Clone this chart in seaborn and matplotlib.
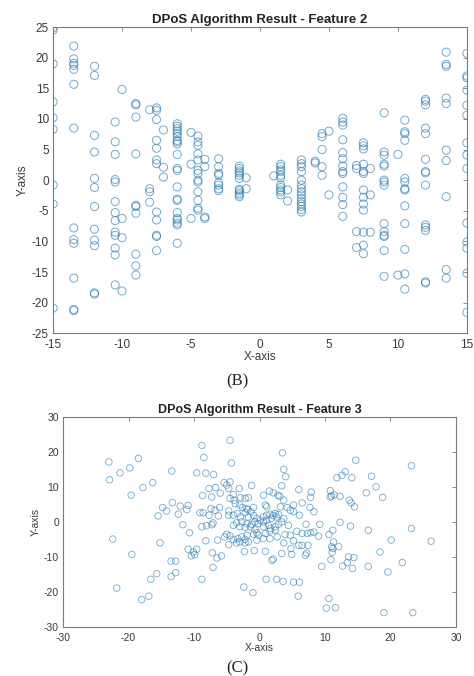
import matplotlib
matplotlib.use('Agg')
import seaborn as sns
import pandas as pd
import matplotlib.pyplot as plt

# Feature 2: points sit on a few discrete x columns
F2_X_COLUMNS = [-15, -13.5, -12, -10.5, -10, -9, -8, -7.5, -7, -6, -5, -4.5, -4, -3,
                -1.5, -1, 1, 1.5, 2, 3, 4, 4.5, 5, 6, 7, 7.5, 8, 9, 10, 10.5, 12, 13.5, 15]
F2_Y_BY_COLUMN = [
    [24.9, 24.5, 19.0, 12.8, 10.2, 8.3, -0.8, -3.9, -20.9],
    [21.9, 19.8, 19.1, 18.75, 18.1, 15.65, 8.5, -7.8, -9.7, -10.3, -16.0, -21.1, -21.3],
    [18.6, 17.1, 7.3, 4.6, 0.3, -1.2, -4.3, -8.0, -9.8, -10.7, -18.4, -18.6],
    [9.5, 6.25, 4.2, 0.1, -0.3, -3.5, -5.3, -6.6, -8.5, -9.0, -11.1, -12.2, -17.1],
    [14.8, -6.25, -9.4, -18.1],
    [12.5, 12.3, 10.3, 4.3, -4.1, -4.3, -5.4, -12.1, -14.0, -15.5],
    [11.5, -1.4, -1.9, -3.6],
    [11.8, 11.4, 9.9, 6.5, 5.2, 3.3, 2.7, -5.2, -6.5, -9.0, -9.2, -11.5],
    [8.2, 2.1, 0.5],
    [9.2, 8.8, 8.4, 8.0, 7.6, 7.1, 6.5, 6.25, 5.9, 4.2, 1.9, 1.6, -1.1, -3.1, -3.3,
     -5.3, -6.25, -6.5, -7.0, -7.3, -10.3],
    [7.8, 2.6, -6.25],
    [7.2, 6.25, 5.7, 4.3, 3.3, 1.6, 1.1, 0.0, -0.3, -1.9, -3.3, -4.6, -4.9],
    [3.4, 2.2, -6.0, -6.25],
    [3.5, 2.2, 1.1, 0.8, -0.4, -0.8, -1.4, -1.7],
    [2.3, 1.9, 1.5, 1.2, 0.8, 0.3, -1.5, -1.7, -2.1, -2.4, -2.7],
    [0.4, -1.4],
    [0.7],
    [2.6, 2.2, 1.7, 1.4, 0.8, 0.4, -0.8, -1.2, -1.6, -1.9, -2.4],
    [-1.6, -3.4],
    [3.3, 2.7, 2.2, 1.4, 0.0, -0.8, -1.4, -1.9, -2.4, -3.0, -3.5, -3.9, -4.3, -4.8, -5.2],
    [3.1, 2.8],
    [7.6, 7.1, 5.0, 2.2, 0.8],
    [8.0, -2.4],
    [10.1, 9.5, 9.0, 6.6, 4.5, 3.5, 2.3, 1.4, 1.1, -1.1, -2.8, -4.0, -5.9],
    [2.4, 1.9, -8.4, -11.0],
    [6.1, 5.6, 5.1, 2.6, 1.4, 1.1, -1.6, -2.8, -3.9, -4.9, -8.5, -10.6, -12.0],
    [1.9, -2.4, -8.5],
    [11.0, 4.6, 4.1, 2.6, 2.3, 0.0, -0.3, -0.8, -7.1, -8.4, -9.0, -9.2, -11.5, -15.7],
    [4.2, -15.5],
    [9.8, 7.9, 7.6, 6.5, 0.3, -0.3, -1.4, -1.6, -4.2, -7.1, -11.3, -15.3, -17.8],
    [13.2, 12.9, 12.3, 8.5, 7.6, 3.4, 1.4, 1.2, -0.8, -7.3, -7.7, -8.2, -16.6, -16.8],
    [20.9, 18.9, 18.6, 13.4, 12.5, 4.9, 3.2, -2.7, -14.6, -16.0],
    [20.7, 17.0, 16.7, 14.7, 12.2, 10.6, 6.1, 4.1, 1.9, -7.0, -10.1, -11.1, -15.2, -21.6],
]

# Feature 3: scattered cloud, (x, y) pairs
F3_POINTS = [
    (-4.5, 23.3), (-8.8, 21.8), (3.5, 19.7), (-8.5, 18.4), (-18.5, 18.1), (14.7, 17.6),
    (-23.0, 17.1), (-4.3, 16.8), (23.2, 16.0), (-19.8, 15.4), (3.7, 15.0), (-13.4, 14.5),
    (13.1, 14.3), (-21.3, 14.0), (-9.6, 14.0), (-8.2, 13.9), (-7.0, 13.5), (12.6, 13.3),
    (17.1, 13.0), (4.0, 12.9), (11.8, 12.6), (14.1, 12.6), (-22.9, 12.0), (-5.4, 11.2),
    (-16.3, 11.2), (-4.5, 11.4), (-5.0, 10.5), (3.4, 10.3), (-1.2, 10.4), (17.8, 10.0),
    (-17.8, 9.8), (-4.7, 9.5), (-7.7, 9.5), (-6.7, 9.8), (-3.1, 9.5), (6.0, 9.2),
    (1.5, 8.8), (10.8, 8.9), (7.9, 8.5), (16.3, 8.3), (2.1, 8.3), (-6.0, 8.2),
    (-4.0, 7.8), (-19.6, 7.6), (-8.7, 7.5), (0.6, 7.6), (2.8, 7.6), (11.0, 7.4),
    (11.4, 7.7), (12.3, 7.3), (-7.3, 7.1), (3.1, 7.3), (7.8, 7.0), (10.8, 7.1),
    (18.8, 7.0), (-2.9, 6.9), (-2.2, 6.7), (-1.7, 6.9), (-4.5, 6.7), (-3.9, 6.2),
    (3.7, 6.2), (13.7, 6.2), (14.0, 5.4), (6.5, 5.4), (-13.3, 5.5), (5.2, 4.8),
    (-10.9, 4.7), (0.9, 4.8), (1.1, 4.3), (-12.1, 4.5), (14.5, 4.3), (-14.8, 4.1),
    (7.7, 4.1), (-11.1, 3.5), (-14.2, 3.1), (-7.4, 3.8), (-6.1, 4.1), (-2.0, 3.8),
    (-0.9, 4.1), (3.2, 4.3), (4.2, 4.1), (4.7, 3.3), (8.3, 2.9), (-4.7, 3.1),
    (-6.8, 3.3), (-9.1, 2.6), (-8.6, 2.6), (-12.4, 2.2), (-7.7, 1.9), (-6.3, 1.7),
    (-4.7, 1.9), (6.1, 1.9), (-15.5, 1.7), (5.2, 2.9), (12.3, -0.1), (-11.7, -0.8),
    (-7.3, -0.8), (-7.1, -0.3), (-8.1, -1.1), (-8.8, -1.4), (7.1, -0.7), (9.2, -0.7),
    (4.4, -1.0), (13.9, -1.2), (16.6, -2.4), (23.2, -1.9), (11.2, -2.4), (8.3, -2.9),
    (7.8, -3.1), (7.3, -3.3), (6.5, -3.3), (5.7, -2.7), (-10.7, -3.1), (10.6, -3.6),
    (3.9, -3.6), (4.7, -3.8), (9.0, -4.1), (-22.4, -4.9), (-8.2, -5.4), (-6.4, -5.2),
    (-5.0, -3.5), (-4.5, -4.0), (-5.3, -4.3), (11.3, -5.7), (20.1, -5.2), (26.2, -5.5),
    (-15.2, -6.0), (-4.7, -6.5), (-3.5, -6.0), (5.2, -5.4), (3.7, -6.0), (6.0, -6.7),
    (6.5, -6.7), (7.4, -6.7), (11.0, -7.1), (12.1, -7.1), (11.2, -7.6), (4.8, -7.6),
    (-10.9, -7.8), (-9.6, -7.8), (-10.1, -8.6), (-7.2, -8.8), (-5.8, -9.7), (-19.5, -9.3),
    (-2.3, -8.5), (-0.8, -8.2), (0.9, -8.4), (3.4, -9.0), (4.9, -9.3), (7.2, -8.9),
    (7.0, -9.5), (11.1, -8.7), (18.4, -8.6), (-10.4, -9.7), (-9.9, -9.3), (-6.5, -10.3),
    (13.6, -10.0), (14.4, -10.2), (13.4, -11.6), (12.7, -12.6), (10.9, -10.8), (9.5, -12.7),
    (16.6, -12.7), (21.8, -11.6), (-13.5, -11.2), (-12.8, -11.2), (1.9, -11.0), (2.1, -10.6),
    (-7.1, -13.0), (14.2, -13.3), (19.6, -14.3), (-12.8, -14.5), (-15.7, -14.8), (-13.5, -15.6),
    (-8.8, -16.4), (-16.6, -16.4), (1.0, -16.4), (2.6, -16.4), (3.6, -17.0), (5.2, -17.2),
    (6.1, -17.2), (-21.8, -18.9), (-2.4, -18.6), (-1.0, -20.2), (-16.9, -21.2), (-18.0, -22.2),
    (5.9, -21.2), (10.6, -21.9), (10.2, -24.6), (11.6, -24.5), (19.0, -25.9), (23.4, -25.9),
    # dense middle
    (-3.7, 5.2), (-3.0, 4.8), (-2.6, 4.1), (-1.8, 3.5), (-1.3, 2.9), (-2.2, 2.6),
    (-3.4, 2.4), (-4.0, 1.9), (-2.9, 1.4), (-1.7, 1.4), (-0.9, 1.8), (-0.4, 1.0),
    (0.1, 0.5), (0.6, 1.4), (1.1, 1.9), (1.6, 2.2), (2.1, 1.8), (2.6, 1.4),
    (1.8, 1.0), (2.4, 2.4), (2.9, 2.1), (1.1, 0.5), (0.6, 0.0), (-0.2, -0.5),
    (-0.7, 0.0), (-1.2, -0.7), (-1.9, -0.5), (-2.7, 0.0), (-3.5, -0.3), (-4.0, -1.0),
    (-3.0, -1.4), (-2.2, -1.6), (-1.4, -1.4), (-0.7, -2.2), (-0.4, -3.1), (-0.9, -3.5),
    (-0.2, -3.8), (0.6, -1.4), (1.4, -1.0), (1.7, -1.9), (2.4, -1.4), (2.9, -0.7),
    (3.4, 0.0), (3.7, 1.0), (0.9, -3.3), (1.6, -2.6), (2.4, -2.4), (-1.9, -3.8),
    (-2.7, -4.3), (-2.2, -5.0), (-3.0, -5.7), (-2.2, -6.0), (-1.7, -5.7), (-4.0, -5.0),
    (-3.3, -4.8), (0.6, -4.8), (-0.4, -5.2), (1.6, -4.8), (2.7, -4.3),
]

BLUE = '#2a7cb0'
TEXT = '#3a3a3a'
EDGE = '#7a7a7a'

sns.set_style('white')
plt.rcParams['font.family'] = ['Liberation Sans', 'DejaVu Sans']
plt.rcParams['axes.unicode_minus'] = False

rows = []
for x, ys in zip(F2_X_COLUMNS, F2_Y_BY_COLUMN):
    for y in ys:
        rows.append((x, y))
df2 = pd.DataFrame(rows, columns=['x', 'y'])
df3 = pd.DataFrame(F3_POINTS, columns=['x', 'y'])

fig = plt.figure(figsize=(4.74, 6.76), dpi=100)
ax_b = fig.add_axes([0.112, 0.507, 0.873, 0.453])
ax_c = fig.add_axes([0.133, 0.0725, 0.829, 0.311])


def style_axes(ax, title, xlim, ylim, xticks, yticks, fs, title_fs):
    ax.set_xlim(*xlim)
    ax.set_ylim(*ylim)
    ax.set_xticks(xticks)
    ax.set_yticks(yticks)
    ax.tick_params(direction='in', top=True, right=True, length=3, width=0.6,
                   colors=EDGE, labelcolor=TEXT, labelsize=fs)
    ax.tick_params(axis='x', pad=4)
    ax.tick_params(axis='y', pad=3)
    for s in ax.spines.values():
        s.set_color(EDGE)
        s.set_linewidth(0.8)
    ax.set_title(title, fontsize=title_fs, fontweight='bold', color='#222222', pad=3)
    ax.set_xlabel('X-axis', fontsize=fs, color=TEXT, labelpad=0)
    ax.set_ylabel('Y-axis', fontsize=fs, color=TEXT, labelpad=2)


sns.scatterplot(data=df2, x='x', y='y', ax=ax_b, marker='o', s=34,
                facecolor='none', edgecolor=BLUE, linewidth=0.7, alpha=0.65)
style_axes(ax_b, 'DPoS Algorithm Result - Feature 2', (-15, 15), (-25, 25),
           range(-15, 16, 5), range(-25, 26, 5), 8.5, 9.5)

sns.scatterplot(data=df3, x='x', y='y', ax=ax_c, marker='o', s=22,
                facecolor='none', edgecolor=BLUE, linewidth=0.6, alpha=0.65)
style_axes(ax_c, 'DPoS Algorithm Result - Feature 3', (-30, 30), (-30, 30),
           range(-30, 31, 10), range(-30, 31, 10), 7.5, 9)

fig.text(0.5, 1 - 381 / 676, '(B)', ha='center', va='center', fontsize=12,
         family=['Liberation Serif', 'DejaVu Serif'])
fig.text(0.5, 1 - 668 / 676, '(C)', ha='center', va='center', fontsize=12,
         family=['Liberation Serif', 'DejaVu Serif'])

fig.savefig('out.png', dpi=100)
